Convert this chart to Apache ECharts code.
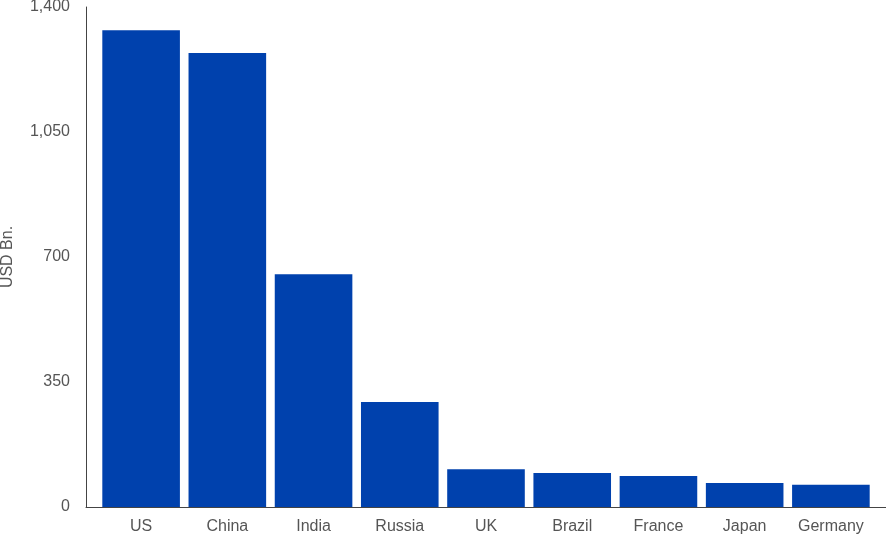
<!DOCTYPE html>
<html>
<head>
<meta charset="utf-8">
<script src="https://cdn.jsdelivr.net/npm/echarts@6/dist/echarts.min.js"></script>
<style>html,body{margin:0;padding:0;background:#fff;}#c{width:886px;height:535px;}</style>
</head>
<body>
<div id="c"></div>
<script>
const categories = ['US', 'China', 'India', 'Russia', 'UK', 'Brazil', 'France', 'Japan', 'Germany'];
const values = [1335, 1271, 652, 294, 106, 95, 87, 67, 62];
const yTicks = [0, 350, 700, 1050, 1400];

const chart = echarts.init(document.getElementById('c'));
const txt = '#555555';
const font = "'Liberation Sans', Arial, Helvetica, sans-serif";
chart.setOption({
  animation: false,
  grid: [
    {left: 98, right: 12, top: 7, bottom: 28, containLabel: false, outerBoundsMode: 'none'},
    {left: 86, right: 0, top: 7, bottom: 28, containLabel: false, outerBoundsMode: 'none'}
  ],
  xAxis: [
    {
      type: 'category', data: categories, gridIndex: 0,
      axisLine: {show: false},
      axisTick: {show: false},
      axisLabel: {color: txt, fontSize: 16, fontFamily: font, margin: 12, interval: 0}
    },
    {
      type: 'value', gridIndex: 1, min: 0, max: 1,
      axisLine: {show: true, lineStyle: {color: '#444444', width: 1}},
      axisTick: {show: false}, axisLabel: {show: false}, splitLine: {show: false}
    }
  ],
  yAxis: [
    {
      type: 'value', gridIndex: 0, min: yTicks[0], max: yTicks[yTicks.length - 1], interval: 350,
      offset: 12,
      name: 'USD Bn.', nameLocation: 'middle', nameGap: 70,
      nameTextStyle: {color: txt, fontSize: 16, fontFamily: font},
      axisLine: {show: true, lineStyle: {color: '#444444', width: 1}},
      axisTick: {show: false},
      splitLine: {show: false},
      axisLabel: {color: txt, fontSize: 16, fontFamily: font, margin: 16,
        formatter: v => v.toLocaleString('en-US')}
    },
    {
      type: 'value', gridIndex: 1, min: 0, max: 1, show: false
    }
  ],
  series: [{
    type: 'bar', data: values, xAxisIndex: 0, yAxisIndex: 0,
    barCategoryGap: '10%',
    itemStyle: {color: '#0041ad'}
  }]
});
</script>
</body>
</html>
